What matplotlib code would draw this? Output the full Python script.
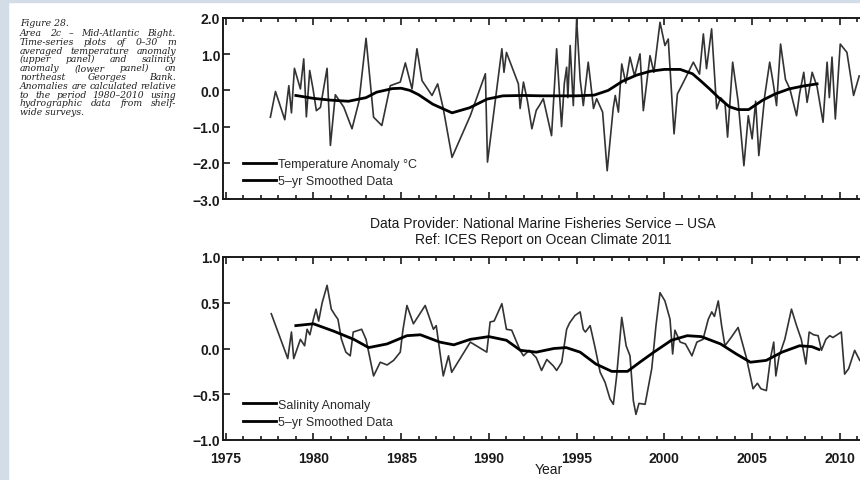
import matplotlib
matplotlib.use("Agg")
import numpy as np
import matplotlib.pyplot as plt
from matplotlib.ticker import MultipleLocator
from matplotlib.patches import Rectangle
from matplotlib.lines import Line2D

plt.rcParams['font.family'] = ['Liberation Sans', 'DejaVu Sans']

# temperature anomaly (upper panel)
temp_year = [1977.55, 1977.84, 1978.37, 1978.6, 1978.75, 1978.92, 1979.26, 1979.45, 1979.6, 1979.79,
             1979.98, 1980.17, 1980.4, 1980.6, 1980.78, 1980.97, 1981.25, 1981.73, 1982.2, 1982.6,
             1983.0, 1983.43, 1983.9, 1984.38, 1984.95, 1985.24, 1985.62, 1985.9, 1986.19, 1986.76,
             1987.08, 1987.4, 1987.9, 1988.94, 1989.8, 1989.92, 1990.74, 1990.86, 1991.0, 1991.68,
             1991.78, 1991.97, 1992.2, 1992.45, 1992.7, 1992.9, 1993.1, 1993.57, 1993.86, 1994.14,
             1994.3, 1994.43, 1994.5, 1994.63, 1994.81, 1995.0, 1995.2, 1995.38, 1995.66, 1995.8,
             1995.96, 1996.14, 1996.48, 1996.74, 1997.08, 1997.2, 1997.38, 1997.57, 1997.8, 1998.04,
             1998.3, 1998.61, 1998.8, 1999.18, 1999.4, 1999.75, 2000.03, 2000.22, 2000.55, 2000.74,
             2001.18, 2001.65, 2002.0, 2002.22, 2002.4, 2002.69, 2002.98, 2003.2, 2003.45, 2003.6,
             2003.89, 2004.2, 2004.53, 2004.78, 2005.0, 2005.2, 2005.38, 2005.72, 2006.0, 2006.2,
             2006.39, 2006.62, 2006.9, 2007.15, 2007.53, 2007.7, 2007.94, 2008.13, 2008.42, 2008.7,
             2009.04, 2009.27, 2009.4, 2009.55, 2009.74, 2010.02, 2010.4, 2010.78, 2011.1]
temp_anom = [-0.74, -0.03, -0.81, 0.13, -0.62, 0.61, 0.04, 0.87, -0.73, 0.55,
             0.04, -0.56, -0.47, 0.10, 0.61, -1.52, -0.12, -0.46, -1.06, -0.30,
             1.44, -0.74, -0.97, 0.13, 0.23, 0.76, 0.04, 1.15, 0.27, -0.14,
             0.18, -0.50, -1.85, -0.70, 0.46, -1.98, 1.15, 0.50, 1.05, 0.18,
             -0.50, 0.23, -0.30, -1.06, -0.55, -0.40, -0.23, -1.25, 1.15, -1.00,
             0.20, 0.64, -0.20, 1.24, -0.42, 1.97, 0.30, -0.42, 0.78, 0.20,
             -0.50, -0.23, -0.60, -2.22, -0.51, -0.14, -0.60, 0.73, 0.20, 0.92,
             0.40, 1.01, -0.56, 0.96, 0.50, 1.88, 1.24, 1.42, -1.20, -0.10,
             0.32, 0.78, 0.45, 1.56, 0.60, 1.70, -0.51, -0.20, -0.33, -1.29,
             0.78, -0.30, -2.08, -0.70, -1.34, -0.30, -1.80, -0.14, 0.78, 0.20,
             -0.42, 1.28, 0.30, 0.04, -0.70, -0.10, 0.50, -0.33, 0.50, 0.10,
             -0.88, 0.78, -0.20, 0.92, -0.79, 1.28, 1.05, -0.14, 0.40]

temp_smooth_year = [1979.0, 1980.0, 1981.0, 1982.0, 1983.0, 1983.6, 1984.5, 1985.0, 1985.5, 1986.0,
                    1986.8, 1987.9, 1988.9, 1989.9, 1990.8, 1992.0, 1993.0, 1994.0, 1995.0, 1996.0,
                    1996.8, 1997.6, 1998.4, 1999.2, 2000.0, 2000.9, 2001.6, 2002.1, 2002.6, 2003.2,
                    2003.7, 2004.2, 2004.8, 2005.6, 2006.3, 2007.1, 2007.9, 2008.7]
temp_smooth = [-0.14, -0.22, -0.27, -0.30, -0.20, -0.05, 0.05, 0.06, 0.00, -0.12,
               -0.38, -0.62, -0.48, -0.24, -0.15, -0.14, -0.15, -0.15, -0.15, -0.13,
               0.00, 0.25, 0.42, 0.53, 0.58, 0.58, 0.46, 0.25, 0.03, -0.25,
               -0.45, -0.53, -0.53, -0.27, -0.10, 0.04, 0.12, 0.18]

# salinity anomaly (lower panel)
sal_year = [1977.6, 1978.54, 1978.75, 1978.88, 1979.26, 1979.5, 1979.64, 1979.8, 1980.0, 1980.15,
            1980.3, 1980.5, 1980.78, 1981.02, 1981.25, 1981.4, 1981.6, 1981.85, 1982.1, 1982.27,
            1982.75, 1983.0, 1983.43, 1983.81, 1984.2, 1984.57, 1984.95, 1985.1, 1985.33, 1985.7,
            1986.37, 1986.84, 1987.0, 1987.4, 1987.7, 1987.88, 1988.94, 1989.88, 1990.07, 1990.3,
            1990.74, 1991.0, 1991.3, 1991.78, 1991.97, 1992.3, 1992.7, 1993.0, 1993.3, 1993.67,
            1993.86, 1994.15, 1994.43, 1994.6, 1994.9, 1995.2, 1995.38, 1995.5, 1995.77, 1996.05,
            1996.34, 1996.62, 1996.9, 1997.09, 1997.28, 1997.57, 1997.82, 1998.04, 1998.23, 1998.38,
            1998.55, 1998.9, 1999.28, 1999.52, 1999.75, 2000.03, 2000.32, 2000.47, 2000.6, 2000.9,
            2001.2, 2001.57, 2001.85, 2002.2, 2002.5, 2002.7, 2002.85, 2003.07, 2003.26, 2003.45,
            2003.8, 2004.2, 2004.67, 2005.05, 2005.3, 2005.5, 2005.81, 2006.05, 2006.23, 2006.35,
            2006.54, 2006.86, 2007.24, 2007.53, 2007.8, 2008.06, 2008.25, 2008.5, 2008.76, 2008.95,
            2009.2, 2009.42, 2009.6, 2010.08, 2010.27, 2010.5, 2010.84, 2011.13]
sal_anom = [0.38, -0.11, 0.18, -0.11, 0.10, 0.03, 0.21, 0.15, 0.32, 0.43,
            0.30, 0.50, 0.69, 0.43, 0.36, 0.32, 0.10, -0.04, -0.08, 0.18,
            0.21, 0.10, -0.30, -0.15, -0.18, -0.13, -0.04, 0.20, 0.47, 0.27,
            0.47, 0.21, 0.25, -0.30, -0.08, -0.26, 0.07, -0.04, 0.29, 0.30,
            0.49, 0.21, 0.20, -0.02, -0.08, -0.02, -0.10, -0.24, -0.12, -0.19,
            -0.24, -0.15, 0.21, 0.28, 0.36, 0.40, 0.21, 0.18, 0.25, 0.01,
            -0.26, -0.37, -0.55, -0.61, -0.30, 0.34, 0.03, -0.08, -0.57, -0.72,
            -0.60, -0.61, -0.22, 0.25, 0.61, 0.52, 0.32, -0.06, 0.20, 0.07,
            0.05, -0.08, 0.07, 0.10, 0.32, 0.40, 0.35, 0.52, 0.25, 0.03,
            0.12, 0.23, -0.10, -0.44, -0.38, -0.44, -0.46, -0.10, 0.07, -0.30,
            -0.08, 0.10, 0.43, 0.25, 0.10, -0.17, 0.18, 0.15, 0.14, -0.02,
            0.10, 0.14, 0.12, 0.18, -0.28, -0.22, -0.02, -0.13]

sal_smooth_year = [1979.0, 1980.0, 1981.15, 1982.3, 1983.15, 1984.2, 1985.33, 1986.1, 1987.2, 1988.0,
                   1988.94, 1990.0, 1991.0, 1991.8, 1992.7, 1993.7, 1994.4, 1995.2, 1996.1, 1997.0,
                   1997.9, 1998.6, 1999.4, 2000.4, 2001.3, 2002.1, 2003.2, 2004.1, 2004.9, 2005.8,
                   2006.7, 2007.7, 2008.4, 2008.8]
sal_smooth = [0.25, 0.27, 0.19, 0.10, 0.01, 0.05, 0.14, 0.15, 0.07, 0.04,
              0.10, 0.13, 0.09, -0.02, -0.04, 0.00, 0.01, -0.04, -0.17, -0.25,
              -0.25, -0.15, -0.04, 0.09, 0.14, 0.13, 0.05, -0.06, -0.15, -0.13,
              -0.04, 0.03, 0.02, -0.01]

caption = ["Area 2c \u2013 Mid-Atlantic Bight.",
           "Time-series plots of 0\u201330 m",
           "averaged temperature anomaly",
           "(upper panel) and salinity",
           "anomaly (lower panel) on",
           "northeast Georges Bank.",
           "Anomalies are calculated relative",
           "to the period 1980\u20132010 using",
           "hydrographic data from shelf-",
           "wide surveys."]

W, H = 860, 481
fig = plt.figure(figsize=(W / 100, H / 100), dpi=100)
fig.patch.set_facecolor('white')
border = '#d3dde8'
fig.patches.append(Rectangle((0, 0), 8 / W, 1, transform=fig.transFigure, color=border, zorder=0))
fig.patches.append(Rectangle((0, 1 - 3 / H), 1, 3 / H, transform=fig.transFigure, color=border, zorder=0))

x0, x1 = 223, 875
ax1 = fig.add_axes([x0 / W, 1 - 200 / H, (x1 - x0) / W, 181 / H])
ax2 = fig.add_axes([x0 / W, 1 - 441 / H, (x1 - x0) / W, 183 / H])

ink = '#1a1a1a'
raw_color = '#333333'

def style(ax, ylo, yhi, step):
    yt = np.arange(ylo, yhi + step / 2, step)
    ax.set_yticks(yt)
    ax.set_yticklabels([('%.1f' % v).replace('-', '\u2212') for v in yt], fontweight='bold')
    ax.set_xlim(1974.85, 2012)
    ax.set_ylim(ylo, yhi)
    ax.xaxis.set_major_locator(MultipleLocator(5))
    ax.xaxis.set_minor_locator(MultipleLocator(1))
    ax.tick_params(which='both', direction='in', top=True, right=True, width=1.2, color=ink,
                   labelsize=10, labelcolor=ink)
    ax.tick_params(which='major', length=5)
    ax.tick_params(which='minor', length=3)
    ax.tick_params(axis='y', which='minor', left=False, right=False)
    ax.tick_params(axis='y', pad=2)
    ax.tick_params(axis='x', pad=8)
    for s in ax.spines.values():
        s.set_linewidth(1.4)
        s.set_color(ink)

def legend(ax, first):
    handles = [Line2D([], [], color='black', lw=2.0), Line2D([], [], color='black', lw=2.0)]
    ax.legend(handles, [first, '5\u2013yr Smoothed Data'], loc='lower left',
              bbox_to_anchor=(0.03, 0.065), frameon=False, fontsize=9,
              handlelength=2.7, handletextpad=0.15, labelspacing=0.42, borderpad=0,
              borderaxespad=0, labelcolor='#2a2a2a')

style(ax1, -3.0, 2.0, 1.0)
ax1.tick_params(axis='x', labelbottom=False)
ax1.plot(temp_year, temp_anom, color=raw_color, lw=1.2)
ax1.plot(temp_smooth_year, temp_smooth, color='black', lw=2.0)
legend(ax1, 'Temperature Anomaly \u00b0C')

style(ax2, -1.0, 1.0, 0.5)
ax2.plot(sal_year, sal_anom, color=raw_color, lw=1.2)
ax2.plot(sal_smooth_year, sal_smooth, color='black', lw=2.0)
legend(ax2, 'Salinity Anomaly')
ax2.set_xlabel('Year', fontsize=10, color=ink, labelpad=-2)
for lab in ax2.get_xticklabels():
    lab.set_fontweight('bold')

fig.text(543 / W, 1 - 224 / H, 'Data Provider: National Marine Fisheries Service \u2013 USA',
         ha='center', va='center', fontsize=10, color=ink)
fig.text(543 / W, 1 - 240 / H, 'Ref: ICES Report on Ocean Climate 2011',
         ha='center', va='center', fontsize=10, color=ink)

# caption, justified word by word
cap_font = dict(family='DejaVu Serif', style='italic', fontsize=6.7, color='#1e1e1e')
cx0, cx1 = 20, 176
fig.text(cx0 / W, 1 - 23 / H, 'Figure 28.', ha='left', va='center', **cap_font)
renderer = fig.canvas.get_renderer()
for i, line in enumerate(caption):
    y = 1 - (33.5 + i * 8.8) / H
    words = line.split()
    if i == len(caption) - 1 or len(words) == 1:
        fig.text(cx0 / W, y, line, ha='left', va='center', **cap_font)
        continue
    items = [fig.text(0, y, w, ha='left', va='center', **cap_font) for w in words]
    widths = [t.get_window_extent(renderer).width for t in items]
    gap = (cx1 - cx0 - sum(widths)) / (len(words) - 1)
    x = cx0
    for t, wd in zip(items, widths):
        t.set_x(x / W)
        x += wd + gap

fig.savefig('out.png', dpi=100)
